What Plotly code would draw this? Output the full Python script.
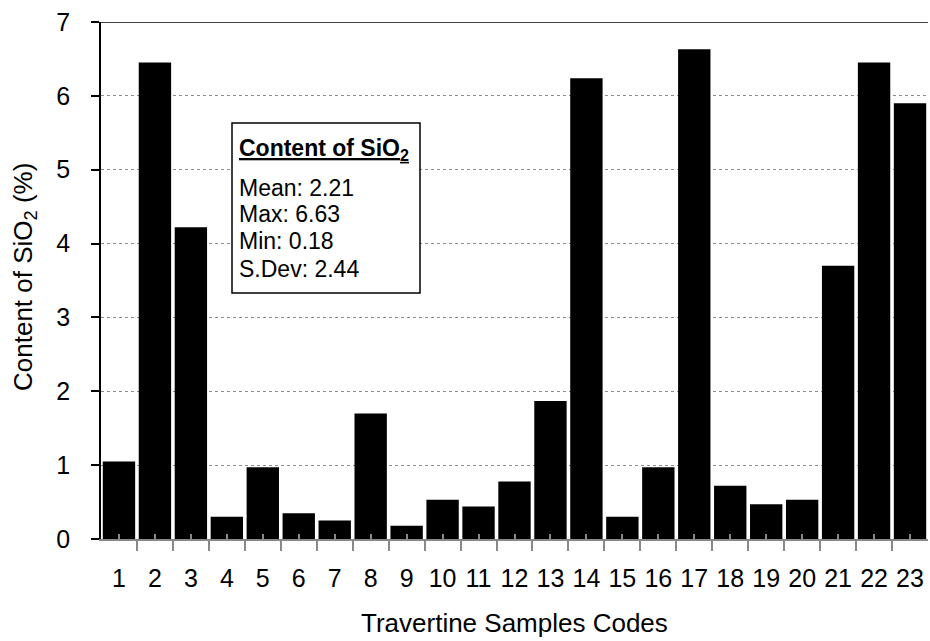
import plotly.graph_objects as go

# ---- data ----
sample_codes = list(range(1, 24))
tick_labels = [str(c) for c in sample_codes]
sio2_content = [1.05, 6.45, 4.22, 0.30, 0.97, 0.35, 0.25, 1.70, 0.18, 0.53,
                0.44, 0.78, 1.87, 6.24, 0.30, 0.97, 6.63, 0.72, 0.47, 0.53,
                3.70, 6.45, 5.90]
stats_labels = ["Mean: 2.21", "Max: 6.63", "Min: 0.18", "S.Dev: 2.44"]

W, H = 930, 641
L, R, T, B = 101, 2, 22, 102
PW, PH = W - L - R, H - T - B


def px(x):
    return (x - L) / PW


def py(y):
    return 1 - (y - T) / PH


FONT = "Liberation Sans, Arial, sans-serif"

fig = go.Figure()
fig.add_trace(go.Bar(x=sample_codes, y=sio2_content, marker=dict(color="black", line=dict(width=0)),
                     showlegend=False, hoverinfo="skip"))

fig.update_layout(
    width=W, height=H,
    margin=dict(l=L, r=R, t=T, b=B),
    plot_bgcolor="white", paper_bgcolor="white",
    bargap=0.1,
    font=dict(family=FONT, color="black", size=25),
    xaxis=dict(
        range=[0.5, 23.5], tickmode="array", tickvals=sample_codes, ticktext=tick_labels,
        ticks="inside", ticklen=5, tickcolor="#888888", tickwidth=1.5,
        minor=dict(tickmode="linear", tick0=0.5, dtick=1, ticks="outside", ticklen=10,
                   tickcolor="#888888", tickwidth=1.5, showgrid=False),
        showline=True, linecolor="#888888", linewidth=1.5,
        showgrid=False, zeroline=False,
        tickfont=dict(size=25), ticklabelstandoff=16,
    ),
    yaxis=dict(
        range=[0, 7], tickmode="linear", tick0=0, dtick=1,
        ticks="outside", ticklen=8, tickcolor="black", tickwidth=1.5,
        showline=True, linecolor="black", linewidth=1.5,
        showgrid=True, gridcolor="#8c8c8c", gridwidth=1, griddash="dot",
        zeroline=False, tickfont=dict(size=25), ticklabelstandoff=16,
    ),
)

# top border line at y = 7
fig.add_shape(type="line", xref="paper", yref="y", x0=0, x1=1, y0=7, y1=7,
              line=dict(color="black", width=1.5), layer="above")

# axis titles
fig.add_annotation(text="Travertine Samples Codes", xref="paper", yref="paper",
                   x=0.5, y=py(640), xanchor="center", yanchor="bottom",
                   showarrow=False, font=dict(size=26))
fig.add_annotation(text="Content of SiO<sub>2</sub> (%)", xref="paper", yref="paper",
                   x=px(24), y=py(277), xanchor="center", yanchor="middle", textangle=-90,
                   showarrow=False, font=dict(size=26))

# statistics box
bx0, bx1, by0, by1 = 232, 420, 123, 293
fig.add_shape(type="rect", xref="paper", yref="paper", x0=px(bx0), x1=px(bx1),
              y0=py(by1), y1=py(by0), line=dict(color="black", width=1.5),
              fillcolor="white", layer="above")
fig.add_annotation(text="<b><u>Content of SiO<sub>2</sub></u></b>", xref="paper", yref="paper",
                   x=px(bx0 + 5), y=py(149), xanchor="left", yanchor="middle",
                   showarrow=False, font=dict(size=23))
line_y = [188, 214, 241, 269]
for lbl, yy in zip(stats_labels, line_y):
    fig.add_annotation(text=lbl, xref="paper", yref="paper",
                       x=px(bx0 + 5), y=py(yy), xanchor="left", yanchor="middle",
                       showarrow=False, font=dict(size=23))

fig.write_html("out.html", config={"displayModeBar": False},
               post_script="document.body.style.margin='0';document.body.style.overflow='hidden';")
